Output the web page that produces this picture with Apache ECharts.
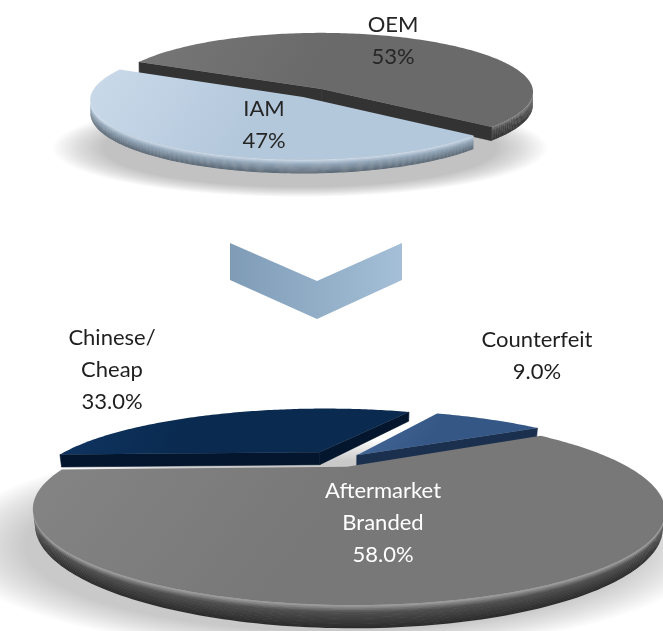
<!DOCTYPE html>
<html>
<head>
<meta charset="utf-8">
<script src="https://cdn.jsdelivr.net/npm/echarts@6/dist/echarts.min.js"></script>
<style>
  html, body { margin: 0; padding: 0; background: #ffffff; }
  #chart { width: 663px; height: 631px; }
</style>
</head>
<body>
<div id="chart"></div>
<script>
// Upper disc: total market split
const marketNames = ['OEM', 'IAM'];
const marketValues = [53, 47];

// Lower disc: independent aftermarket split
const iamNames = ['Chinese/\nCheap', 'Counterfeit', 'Aftermarket\nBranded'];
const iamValues = [33.0, 9.0, 58.0];

const RAD = Math.PI / 180;
const FONT = 'Lato, "Open Sans", sans-serif';

// Each disc is a flat cylinder seen from above and in front, projected in perspective.
// cx/cy: screen centre, S/D: projection scale and camera distance (in disc radii),
// sinA: camera elevation, h: thickness, start: angle of the first slice edge
// (degrees, counter-clockwise from 3 o'clock); slices run clockwise from there.
const discs = [
  {
    names: marketNames, values: marketValues, decimals: 0,
    cx: 310, cy: 94, S: 4240, D: 20, sinA: 0.28, h: 0.065, start: 152,
    explode: [0.1, 0.06],
    shadow: { dx: -10, dy: 54, rx: 222, ry: 44, soft: 26, alpha: 0.24 },
    face: [['#777777', '#6a6a6a'], ['#cadaea', '#b4c8dc']],
    wall: [
      [[0, '#7a7a7a'], [0.3, '#4c4c4c'], [1, '#2e2e2e']],
      [[0, '#d0deec'], [0.35, '#92a6b9'], [1, '#5a6773']]
    ],
    side: ['#333333', '#8fa3b6'],
    labelAt: [[83, -53], [-46, 31]],
    labelColor: ['#262626', '#262626']
  },
  {
    names: iamNames, values: iamValues, decimals: 1,
    cx: 339, cy: 460, S: 592, D: 2.2, sinA: 0.255, h: 0.05, start: 182,
    explode: [0.14, 0.1, 0.1],
    shadow: { dx: -8, dy: 86, rx: 345, ry: 96, soft: 40, alpha: 0.21 },
    face: [['#0f3562', '#0a2a4f'], ['#46699a', '#355786'], ['#858585', '#787878']],
    wall: [
      [[0, '#0d2e52'], [0.4, '#061c36'], [1, '#03132a']],
      [[0, '#2f4b72'], [0.4, '#1d3250'], [1, '#15263e']],
      [[0, '#a4a4a4'], [0.3, '#505050'], [1, '#2a2a2a']]
    ],
    side: ['#03162d', '#1b304e', '#3c3c3c'],
    labelAt: [[-227, -90], [198, -104], [44, 63]],
    labelColor: ['#1f1f1f', '#1f1f1f', '#ffffff']
  }
];

function projector(L) {
  const cosA = Math.sqrt(1 - L.sinA * L.sinA);
  return function (x, y, z) {
    // x to the right, y up, z toward the viewer
    const d = L.D - (y * L.sinA + z * cosA);
    const up = y * cosA - z * L.sinA;
    return [L.cx + L.S * x / d, L.cy - L.S * up / d];
  };
}

function hexToRgb(c) {
  const n = parseInt(c.slice(1), 16);
  return [(n >> 16) & 255, (n >> 8) & 255, n & 255];
}

// colour along a list of [offset, hex] stops
function colorAt(stops, f) {
  for (let i = 1; i < stops.length; i++) {
    if (f <= stops[i][0]) {
      const [o0, c0] = stops[i - 1], [o1, c1] = stops[i];
      const u = (f - o0) / (o1 - o0);
      const a = hexToRgb(c0), b = hexToRgb(c1);
      return 'rgb(' + a.map((v, j) => Math.round(v + (b[j] - v) * u)).join(',') + ')';
    }
  }
  return stops[stops.length - 1][1];
}

function sliceAngles(L, idx, value) {
  const total = L.values.reduce((a, b) => a + b, 0);
  let before = 0;
  for (let k = 0; k < idx; k++) before += L.values[k];
  const a0 = L.start - before / total * 360;   // counter-clockwise edge
  const a1 = a0 - value / total * 360;         // clockwise edge
  return [a0, a1];
}

function depthRank(L) {
  const total = L.values.reduce((a, b) => a + b, 0);
  let acc = 0;
  const keys = L.values.map((v, i) => {
    const a0 = L.start - acc / total * 360;
    acc += v;
    const a1 = L.start - acc / total * 360;
    return { i, z: -Math.sin((a0 + a1) / 2 * RAD) };
  });
  keys.sort((p, q) => p.z - q.z);
  const rank = [];
  keys.forEach((k, r) => { rank[k.i] = r; });
  return rank;
}

function renderSlice(L, idx, value) {
  const P = projector(L);
  const cosA = Math.sqrt(1 - L.sinA * L.sinA);
  const camZ = L.D * cosA;
  const [a0, a1] = sliceAngles(L, idx, value);
  const mid = (a0 + a1) / 2 * RAD;
  const e = L.explode[idx];
  const ox = e * Math.cos(mid), oz = -e * Math.sin(mid);
  const h = L.h;
  const base = 10 + depthRank(L)[idx] * 10;
  const children = [];

  // soft ground shadow under the whole disc, drawn once
  if (idx === 0) {
    const sh = L.shadow;
    const R = sh.rx + sh.soft;
    const a = sh.alpha;
    children.push({
      type: 'circle', z2: 1, silent: true,
      x: L.cx + sh.dx, y: L.cy + sh.dy, scaleY: sh.ry / sh.rx,
      shape: { cx: 0, cy: 0, r: R },
      style: {
        fill: new echarts.graphic.RadialGradient(0.5, 0.5, 0.5, [
          { offset: 0, color: 'rgba(0,0,0,' + a + ')' },
          { offset: (sh.rx - sh.soft) / R, color: 'rgba(0,0,0,' + a + ')' },
          { offset: sh.rx / R, color: 'rgba(0,0,0,' + (a * 0.55) + ')' },
          { offset: 1, color: 'rgba(0,0,0,0)' }
        ])
      }
    });
  }

  const steps = Math.max(4, Math.ceil((a0 - a1) / 1));
  const angAt = s => (a1 + (a0 - a1) * s / steps) * RAD;
  const pt = (t, y) => P(ox + Math.cos(t), y, oz - Math.sin(t));
  const top = [];
  for (let s = 0; s <= steps; s++) top.push(pt(angAt(s), 0));
  const cTop = P(ox, 0, oz), cBot = P(ox, -h, oz);
  const visible = (px, pz, nx, nz) => (-px) * nx + (camZ - pz) * nz > 0;

  // curved outer wall: the stretch turned toward the camera, shaded in thin
  // horizontal layers from the rim highlight down to the dark base
  const vis = [];
  for (let s = 0; s < steps; s++) {
    const t = (angAt(s) + angAt(s + 1)) / 2;
    if (visible(ox + Math.cos(t), oz - Math.sin(t), Math.cos(t), -Math.sin(t))) vis.push(s);
  }
  if (vis.length) {
    const angs = [];
    for (let s = vis[0]; s <= vis[vis.length - 1] + 1; s++) angs.push(angAt(s));
    const K = 14;
    for (let k = 0; k < K; k++) {
      const y0 = -h * k / K;
      const y1 = -h * Math.min(1, (k + 1.35) / K);
      const upper = angs.map(t => pt(t, y0));
      const lower = angs.slice().reverse().map(t => pt(t, y1));
      children.push({
        type: 'polygon', z2: base + 1, silent: true,
        shape: { points: upper.concat(lower) },
        style: { fill: colorAt(L.wall[idx], (k + 0.5) / K) }
      });
    }
  }

  // flat radial walls at both cut edges
  const radial = [
    { t: a0 * RAD, nx: -Math.sin(a0 * RAD), nz: -Math.cos(a0 * RAD) },
    { t: a1 * RAD, nx: Math.sin(a1 * RAD), nz: Math.cos(a1 * RAD) }
  ];
  radial.forEach(r => {
    const px = ox + Math.cos(r.t) / 2, pz = oz - Math.sin(r.t) / 2;
    if (!visible(px, pz, r.nx, r.nz)) return;
    children.push({
      type: 'polygon', z2: base + 2, silent: true,
      shape: { points: [cTop, pt(r.t, 0), pt(r.t, -h), cBot] },
      style: { fill: L.side[idx], stroke: L.side[idx], lineWidth: 0.6 }
    });
  });

  // top face
  children.push({
    type: 'polygon', z2: base + 5, silent: true,
    shape: { points: [cTop].concat(top) },
    style: {
      fill: new echarts.graphic.LinearGradient(0, 0, 0.35, 1, [
        { offset: 0, color: L.face[idx][0] }, { offset: 1, color: L.face[idx][1] }
      ])
    }
  });

  // data label
  children.push({
    type: 'text', z2: 200, silent: true,
    style: {
      text: L.names[idx] + '\n' + value.toFixed(L.decimals) + '%',
      x: L.cx + L.labelAt[idx][0], y: L.cy + L.labelAt[idx][1],
      align: 'center', verticalAlign: 'middle',
      fontFamily: FONT, fontSize: 22, lineHeight: 32,
      fill: L.labelColor[idx]
    }
  });

  return { type: 'group', children };
}

const chart = echarts.init(document.getElementById('chart'), null, { renderer: 'canvas' });
chart.setOption({
  backgroundColor: '#ffffff',
  animation: false,
  graphic: [{
    type: 'polygon', silent: true, z: 0,
    shape: { points: [[230, 243], [317, 281], [402, 243], [402, 280], [317, 319], [230, 280]] },
    style: {
      fill: new echarts.graphic.LinearGradient(0, 0, 1, 0, [
        { offset: 0, color: '#7f9cb7' }, { offset: 1, color: '#a4bfd7' }
      ])
    }
  }],
  series: discs.map(L => ({
    type: 'custom',
    coordinateSystem: 'none',
    silent: true,
    animation: false,
    data: L.values.map((v, i) => ({ name: L.names[i], value: v })),
    renderItem: (params, api) => renderSlice(L, params.dataIndex, api.value(0))
  }))
});
</script>
</body>
</html>
